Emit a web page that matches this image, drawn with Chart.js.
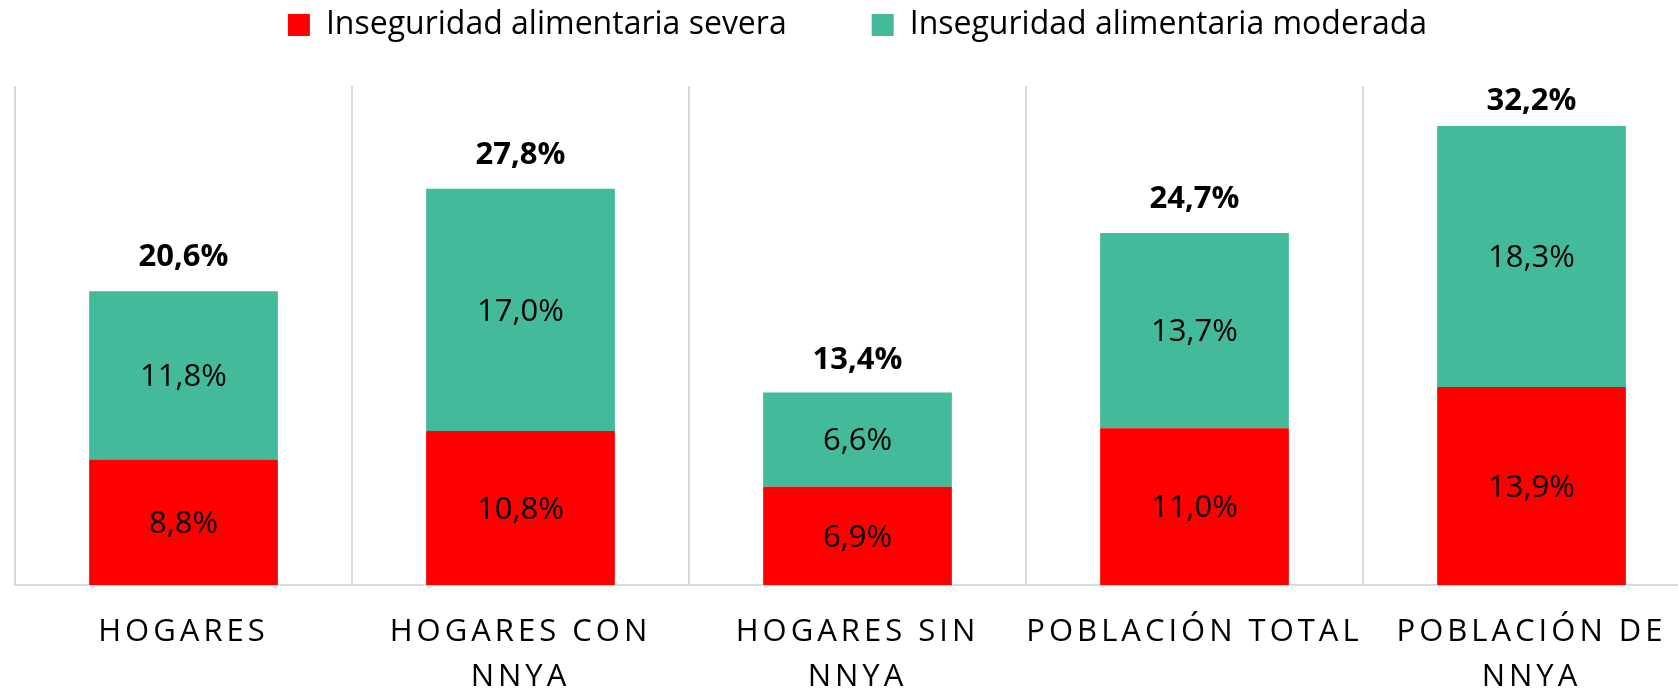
<!DOCTYPE html>
<html lang="es">
<head>
<meta charset="utf-8">
<title>Inseguridad alimentaria</title>
<script src="https://cdn.jsdelivr.net/npm/chart.js@4"></script>
<style>
  html, body { margin: 0; padding: 0; background: #fff; overflow: hidden; }
  #wrap { position: relative; width: 1700px; height: 691px; }
</style>
</head>
<body>
<div id="wrap"><canvas id="foodChart"></canvas></div>
<script>
// Datos
const categories = ['HOGARES', ['HOGARES CON', 'NNYA'], ['HOGARES SIN', 'NNYA'], 'POBLACIÓN TOTAL', ['POBLACIÓN DE', 'NNYA']];
const severa = [8.8, 10.8, 6.9, 11.0, 13.9];
const moderada = [11.8, 17.0, 6.6, 13.7, 18.3];
const totales = [20.6, 27.8, 13.4, 24.7, 32.2];

const FONT = "'Open Sans', 'Noto Sans', sans-serif";

function pct(v) {
  return v.toFixed(1).replace('.', ',') + '%';
}

// Espaciado de letras en las etiquetas del eje X (como en el original)
const spacedTicks = {
  id: 'spacedTicks',
  beforeDraw(chart) {
    const xs = chart.scales.x;
    if (!xs || xs._spaced) return;
    const orig = xs.drawLabels;
    xs.drawLabels = function(area) {
      const c = this.ctx;
      c.save();
      c.letterSpacing = '4px';
      orig.call(this, area);
      c.restore();
    };
    xs._spaced = true;
  }
};

// Valores dentro de las barras y totales arriba
const barLabels = {
  id: 'barLabels',
  afterDatasetsDraw(chart) {
    const ctx = chart.ctx;
    ctx.save();
    ctx.textAlign = 'center';
    ctx.textBaseline = 'middle';
    ctx.fillStyle = '#000';
    ctx.font = '31px ' + FONT;
    chart.data.datasets.forEach((ds, i) => {
      chart.getDatasetMeta(i).data.forEach((bar, j) => {
        const p = bar.getProps(['x', 'y', 'base'], true);
        ctx.fillText(pct(ds.data[j]), p.x, (p.y + p.base) / 2 + 2);
      });
    });
    ctx.font = 'bold 31px ' + FONT;
    const yScale = chart.scales.y;
    const minY = chart.chartArea.top + 15; // que no se salga del área del gráfico
    chart.getDatasetMeta(1).data.forEach((bar, j) => {
      const p = bar.getProps(['x'], true);
      const y = Math.max(minY, yScale.getPixelForValue(totales[j]) - 34);
      ctx.fillText(pct(totales[j]), p.x, y);
    });
    ctx.restore();
  }
};

const ctx = document.getElementById('foodChart').getContext('2d');
const foodChart = new Chart(ctx, {
  type: 'bar',
  data: {
    labels: categories,
    datasets: [
      {
        label: 'Inseguridad alimentaria severa',
        data: severa,
        backgroundColor: '#ff0000',
        borderWidth: 0,
        barPercentage: 0.56,
        categoryPercentage: 1
      },
      {
        label: 'Inseguridad alimentaria moderada',
        data: moderada,
        backgroundColor: '#43ba99',
        borderWidth: 0,
        barPercentage: 0.56,
        categoryPercentage: 1
      }
    ]
  },
  options: {
    responsive: true,
    maintainAspectRatio: false,
    animation: false,
    layout: { padding: { top: -76, left: 15, right: 0, bottom: -34 } },
    plugins: {
      tooltip: { enabled: false },
      legend: {
        position: 'top',
        labels: {
          boxWidth: 22,
          boxHeight: 22,
          padding: 85,
          color: '#000',
          font: { family: FONT, size: 32 }
        }
      },
      // espacio entre la leyenda y el área del gráfico
      subtitle: {
        display: true,
        text: '',
        weight: 500,
        font: { size: 10, lineHeight: 1 },
        padding: { top: 25, bottom: 0 }
      }
    },
    scales: {
      x: {
        stacked: true,
        grid: { offset: true, color: '#d9d9d9', lineWidth: 2, drawTicks: false },
        border: { color: '#d9d9d9', width: 2 },
        ticks: {
          color: '#000',
          padding: 25,
          maxRotation: 0,
          autoSkip: false,
          font: { family: FONT, size: 31, lineHeight: 1.45 }
        }
      },
      y: {
        stacked: true,
        display: false,
        min: 0,
        max: 35
      }
    }
  },
  plugins: [spacedTicks, barLabels]
});
foodChart.draw();
</script>
</body>
</html>
